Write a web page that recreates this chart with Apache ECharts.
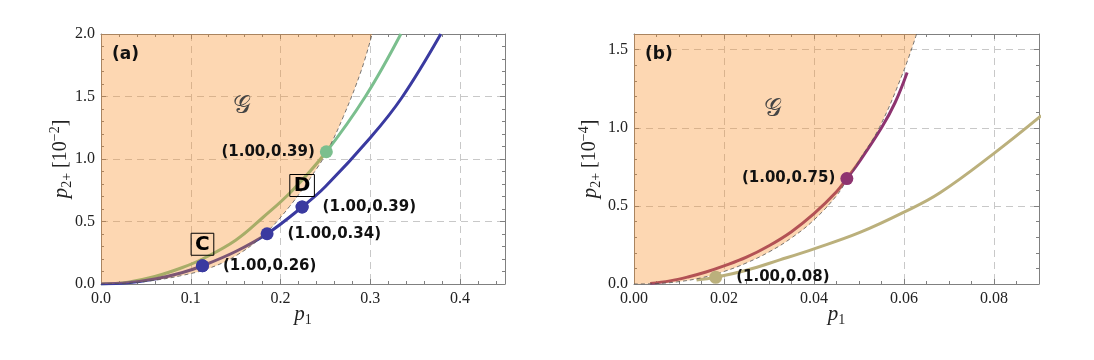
<!DOCTYPE html>
<html>
<head>
<meta charset="utf-8">
<script src="https://cdn.jsdelivr.net/npm/echarts@6/dist/echarts.min.js"></script>
<style>
  html, body { margin: 0; padding: 0; background: #fff; }
  #main { width: 1094px; height: 360px; }
</style>
</head>
<body>
<div id="main"></div>
<script>
// ---------- panel (a) data, p2+ in units of 1e-2 ----------
const aBound = [[0, 0], [0.03, 0.007], [0.06, 0.03], [0.09, 0.068], [0.12, 0.125], [0.15, 0.225], [0.18, 0.385],
  [0.21, 0.62], [0.24, 0.92], [0.2525, 1.07], [0.27, 1.34], [0.29, 1.71], [0.302, 2.0]]
const aGreen = [[0, 0], [0.03, 0.015], [0.06, 0.06], [0.09, 0.13], [0.113, 0.2], [0.15, 0.35], [0.18, 0.53],
  [0.212, 0.74], [0.251, 1.058], [0.2945, 1.5], [0.334, 2.0]]
const aBlue = [[0, 0], [0.03, 0.01], [0.06, 0.04], [0.09, 0.09], [0.113, 0.146], [0.15, 0.26], [0.185, 0.402],
  [0.224, 0.616], [0.25, 0.78], [0.3, 1.17], [0.335, 1.49], [0.3785, 2.0]]
const aBlueMarkX = [0.113, 0.185, 0.224]
const aBlueMarkY = [0.146, 0.402, 0.616]
const aBlueMarkText = ['(1.00,0.26)', '(1.00,0.34)', '(1.00,0.39)']
const aGreenMarkX = [0.251]
const aGreenMarkY = [1.058]
const aGreenMarkText = ['(1.00,0.39)']
const aBoxIdx = [0, 2]      // blue markers that carry a boxed letter
const aBoxText = ['C', 'D']

// ---------- panel (b) data, p2+ in units of 1e-4 ----------
const bBound = [[0, 0], [0.005, 0.003], [0.01, 0.015], [0.015, 0.04], [0.02, 0.08], [0.025, 0.135], [0.03, 0.205],
  [0.035, 0.295], [0.04, 0.41], [0.045, 0.565], [0.0473, 0.665], [0.05, 0.79], [0.0545, 1.0], [0.0598, 1.354], [0.0628, 1.6]]
const bPurple = [[0.0036, 0.004], [0.008, 0.02], [0.012, 0.045], [0.016, 0.077], [0.02, 0.116], [0.025, 0.172],
  [0.03, 0.245], [0.035, 0.335], [0.04, 0.45], [0.045, 0.59], [0.0473, 0.675], [0.05, 0.78], [0.055, 1.0],
  [0.058, 1.16], [0.0607, 1.354]]
const bOlive = [[0.0139, 0.026], [0.01815, 0.043], [0.025, 0.088], [0.0324, 0.154], [0.04, 0.225], [0.0502, 0.33],
  [0.06, 0.46], [0.068, 0.584], [0.08, 0.836], [0.0905, 1.077]]
const bPurpleMarkX = [0.0473]
const bPurpleMarkY = [0.675]
const bPurpleMarkText = ['(1.00,0.75)']
const bOliveMarkX = [0.01815]
const bOliveMarkY = [0.043]
const bOliveMarkText = ['(1.00,0.08)']

// ---------- styles ----------
// fill sits over the curves, so the curves inside the region look darker/tinted
const FILL = 'rgba(249,141,35,0.35)'
const BLUE = '#3a3aa0'
const GREEN = '#7bbf8e'
const PURPLE = '#8e3470'
const OLIVE = '#bbb07c'
const FRAME = '#808080'
const SERIF = '"Liberation Serif", "DejaVu Serif", serif'
const SANS = '"DejaVu Sans", sans-serif'

const chart = echarts.init(document.getElementById('main'))

const nameRich = {
  i: { fontFamily: SERIF, fontStyle: 'italic', fontSize: 21, lineHeight: 26, color: '#222' },
  n: { fontFamily: SERIF, fontSize: 20, lineHeight: 26, color: '#222' },
  sub: { fontFamily: SERIF, fontSize: 14, lineHeight: 14, verticalAlign: 'bottom', color: '#222' },
  sup: { fontFamily: SERIF, fontSize: 14, lineHeight: 14, verticalAlign: 'top', color: '#222' },
}

function tickFmt(step, digits) {
  return function (v) {
    const k = v / step
    return Math.abs(k - Math.round(k)) < 1e-6 ? v.toFixed(digits) : ''
  }
}

// one frame side: bottom/top or left/right
function makeAxis(grid, max, step, minor, pos, digits, name, nameGap) {
  const main = pos === 'bottom' || pos === 'left'
  const ax = {
    type: 'value',
    gridIndex: grid,
    position: pos,
    min: 0,
    max: max,
    interval: step,
    axisLine: { show: true, onZero: false, lineStyle: { color: FRAME, width: 1 } },
    axisTick: { show: true, inside: true, length: 5, lineStyle: { color: FRAME } },
    minorTick: { show: true, splitNumber: minor, length: 3, lineStyle: { color: FRAME } },
    splitLine: { show: main, lineStyle: { color: '#c8c8c8', width: 1, type: [7, 5] } },
    axisLabel: {
      show: main,
      formatter: tickFmt(step, digits),
      fontFamily: SERIF,
      fontSize: 16,
      color: '#222',
      margin: pos === 'bottom' ? 7 : 6,
      showMinLabel: true,
      showMaxLabel: true,
    },
  }
  if (main) {
    ax.name = name
    ax.nameLocation = 'middle'
    ax.nameGap = nameGap
    ax.nameMoveOverlap = false
    ax.nameTextStyle = { rich: nameRich }
  }
  return ax
}

function lineSeries(xi, data, color, width, z) {
  return {
    type: 'line',
    xAxisIndex: xi,
    yAxisIndex: xi,
    data: data,
    showSymbol: false,
    smooth: 0.4,
    lineStyle: { color: color, width: width },
    z: z,
    silent: true,
  }
}

function boundSeries(xi, data) {
  return {
    type: 'line',
    xAxisIndex: xi,
    yAxisIndex: xi,
    data: data,
    showSymbol: false,
    smooth: 0.4,
    lineStyle: { color: '#555', width: 0.8, type: [4, 3] },
    areaStyle: { color: FILL, origin: 'end', opacity: 1 },
    z: 3,
    silent: true,
  }
}

function markSeries(xi, xs, ys, texts, color, side) {
  return {
    type: 'scatter',
    xAxisIndex: xi,
    yAxisIndex: xi,
    data: xs.map((x, i) => [x, ys[i]]),
    symbolSize: 13,
    itemStyle: { color: color, opacity: 1 },
    z: 5,
    silent: true,
    label: {
      show: true,
      position: side,
      distance: side === 'left' ? 5 : 14,
      formatter: (p) => texts[p.dataIndex],
      fontFamily: SANS,
      fontWeight: 'bold',
      fontSize: 15,
      color: '#111',
    },
  }
}

// boxed letters sit on top of the same blue markers
const boxSeries = {
  type: 'scatter',
  xAxisIndex: 0,
  yAxisIndex: 0,
  data: aBoxIdx.map((k) => [aBlueMarkX[k], aBlueMarkY[k]]),
  symbol: 'circle',
  symbolSize: 13,
  itemStyle: { color: BLUE, opacity: 1 },
  z: 6,
  silent: true,
  label: {
    show: true,
    position: 'top',
    distance: 4,
    formatter: (p) => aBoxText[p.dataIndex],
    fontFamily: SANS,
    fontWeight: 'bold',
    fontSize: 20,
    lineHeight: 21,
    color: '#000',
    opacity: 1,
    borderColor: '#000',
    borderWidth: 1,
    padding: [1, 4, 0, 4],
  },
}

const option = {
  animation: false,
  backgroundColor: '#fff',
  grid: [
    { left: 101, top: 34, width: 404, height: 250, containLabel: false },
    { left: 634, top: 34, width: 405, height: 250, containLabel: false },
  ],
  xAxis: [
    makeAxis(0, 0.45, 0.1, 5, 'bottom', 1, '{i|p}{sub|1}', 17),
    makeAxis(0, 0.45, 0.1, 5, 'top', 1),
    makeAxis(1, 0.09, 0.02, 4, 'bottom', 2, '{i|p}{sub|1}', 17),
    makeAxis(1, 0.09, 0.02, 4, 'top', 2),
  ],
  yAxis: [
    makeAxis(0, 2.0, 0.5, 5, 'left', 1, '{i|p}{sub|2+}{n| [10}{sup|−2}{n|]}', 27),
    makeAxis(0, 2.0, 0.5, 5, 'right', 1),
    makeAxis(1, 1.6, 0.5, 5, 'left', 1, '{i|p}{sub|2+}{n| [10}{sup|−4}{n|]}', 31),
    makeAxis(1, 1.6, 0.5, 5, 'right', 1),
  ],
  series: [
    lineSeries(0, aGreen, GREEN, 3, 2),
    lineSeries(0, aBlue, BLUE, 3, 2),
    boundSeries(0, aBound),
    markSeries(0, aBlueMarkX, aBlueMarkY, aBlueMarkText, BLUE, 'right'),
    markSeries(0, aGreenMarkX, aGreenMarkY, aGreenMarkText, GREEN, 'left'),
    boxSeries,
    lineSeries(2, bPurple, PURPLE, 3, 2),
    lineSeries(2, bOlive, OLIVE, 3, 2),
    boundSeries(2, bBound),
    markSeries(2, bPurpleMarkX, bPurpleMarkY, bPurpleMarkText, PURPLE, 'left'),
    markSeries(2, bOliveMarkX, bOliveMarkY, bOliveMarkText, OLIVE, 'right'),
  ],
  graphic: [
    { type: 'text', left: 112, top: 46, z: 10, style: { text: '(a)', font: 'bold 17px "DejaVu Sans"', fill: '#111' } },
    { type: 'text', left: 645, top: 46, z: 10, style: { text: '(b)', font: 'bold 17px "DejaVu Sans"', fill: '#111' } },
    { type: 'text', left: 233, top: 94, z: 10, style: { text: '𝒢', font: '25px "DejaVu Serif", "DejaVu Sans", serif', fill: '#444' } },
    { type: 'text', left: 764, top: 97, z: 10, style: { text: '𝒢', font: '25px "DejaVu Serif", "DejaVu Sans", serif', fill: '#444' } },
  ],
}

chart.setOption(option)
</script>
</body>
</html>
